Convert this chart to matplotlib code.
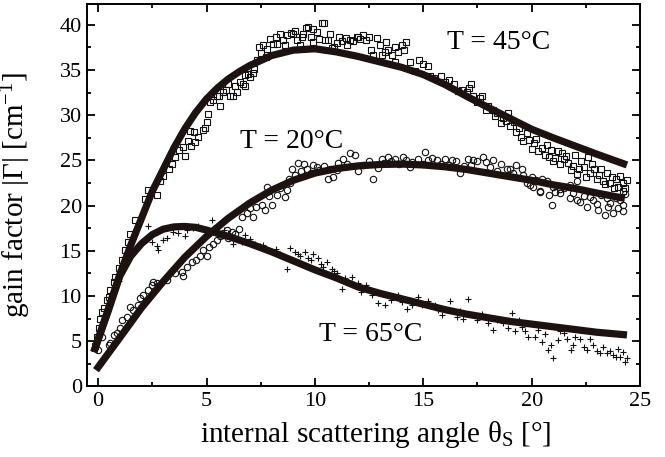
import matplotlib
matplotlib.use("Agg")
import matplotlib.pyplot as plt
from matplotlib.ticker import MultipleLocator

plt.rcParams['font.family'] = ['Liberation Serif', 'DejaVu Serif']
plt.rcParams['mathtext.fontset'] = 'custom'
plt.rcParams['mathtext.rm'] = 'Liberation Serif'
plt.rcParams['mathtext.it'] = 'Liberation Serif:italic'

# measured gain, T = 45 °C (squares)
x45 = [-0.15, -0.05, 0.05, 0.1, 0.17, 0.25, 0.4, 0.48, 0.55, 0.71, 0.78, 0.94, 1.09,
       1.25, 1.4, 1.48, 1.71, 2.17, 2.32, 2.73, 2.86, 3.29, 3.55, 3.75, 4.01, 4.16,
       4.24, 4.42, 4.47, 4.62, 4.82, 4.93, 5.08, 5.16, 5.31, 5.47, 5.59, 5.74, 5.9,
       6.08, 6.23, 6.31, 6.54, 6.7, 6.77, 6.77, 7.0, 7.16, 7.19, 7.31, 7.44, 7.59,
       7.74, 7.93, 8.08, 8.24, 8.39, 8.51, 8.7, 8.88, 9.0, 9.19, 9.31, 9.47, 9.6,
       9.7, 9.81, 9.93, 10.09, 10.21, 10.31, 10.42, 10.46, 10.62, 10.77, 10.88,
       11.03, 11.23, 11.43, 11.61, 11.77, 11.92, 12.0, 12.23, 12.38, 12.61, 12.69,
       12.88, 13.0, 13.08, 13.23, 13.38, 13.54, 13.69, 13.85, 14.0, 14.2, 14.4,
       14.6, 14.8, 15.0, 15.2, 15.3, 15.5, 15.8, 16.0, 16.2, 16.4, 16.6, 16.8,
       17.0, 17.2, 17.3, 17.5, 17.7, 17.9, 18.2, 18.3, 18.6, 18.7, 18.9, 19.2,
       19.3, 19.5, 19.8, 19.9, 20.1, 20.3, 20.5, 20.7, 20.8, 21.0, 21.2, 21.4,
       21.5, 21.7, 21.8, 22.0, 22.2, 22.4, 22.6, 22.7, 22.9, 23.1, 23.3, 23.5,
       23.6, 23.9, 24.0, 24.2, 24.2,
       3.0, 3.4, 3.9, 4.3, 5.0, 5.6, 6.0, 6.4, 6.9, 7.5, 7.8, 8.2, 8.6, 9.1, 9.4,
       9.9, 10.7, 11.1, 11.5, 12.1, 12.5, 13.3, 13.7, 14.1,
       17.1, 17.6, 18.0, 18.4, 18.8, 19.0, 19.4, 19.6, 20.0, 20.2, 20.6, 20.9,
       21.1, 21.3, 21.6, 21.9, 22.1, 22.3, 22.5, 22.8, 23.0, 23.2, 23.4, 23.7,
       23.8, 24.1, 24.3, 24.4]
y45 = [4.5, 5.5, 6.5, 7.5, 8.2, 8.65, 9.6, 9.9, 10.7, 11.6, 12.1, 13.1, 14.0,
       15.1, 16.0, 16.9, 18.4, 20.7, 21.7, 21.2, 22.7, 24.1, 25.4, 26.1, 25.5, 27.2,
       28.3, 28.2, 27.0, 27.6, 28.4, 28.6, 30.1, 31.5, 31.7, 32.1, 32.1, 32.6, 32.8,
       32.1, 32.1, 33.2, 33.7, 33.4, 34.5, 33.2, 34.2, 34.7, 35.1, 36.1, 37.6, 37.8,
       36.4, 38.4, 37.9, 37.9, 39.0, 38.3, 38.9, 39.1, 39.0, 38.3, 37.8, 39.0, 39.7,
       39.8, 38.7, 38.1, 39.2, 38.4, 40.2, 40.2, 38.3, 38.3, 37.4, 37.6,
       38.0, 38.2, 38.5, 38.3, 38.2, 38.6, 38.7, 38.9, 38.3, 37.2, 36.7,
       38.5, 37.8, 36.7, 37.0, 37.2, 36.7, 35.9, 37.0, 37.8, 38.1, 35.9,
       34.9, 36.1, 35.7, 35.4, 34.3, 34.1, 34.3, 33.7, 33.9, 33.5, 32.7, 32.8,
       32.6, 33.5, 32.1, 31.5, 32.1, 30.6, 30.6, 29.9, 29.1, 29.7, 30.2, 29.3,
       28.2, 27.6, 28.0, 27.3, 26.9, 26.0, 26.4, 26.7, 25.4, 24.9, 26.0, 25.8,
       25.2, 24.7, 23.9, 25.6, 24.1, 24.3, 25.4, 23.6, 24.1, 23.4, 22.7, 23.6,
       22.5, 22.9, 22.1, 22.5, 21.6,
       23.3, 24.6, 26.5, 26.6, 29.3, 31.0, 33.4, 32.6, 34.6, 36.9, 37.3, 38.6,
       37.8, 39.3, 38.6, 39.5, 39.0, 38.6, 37.8, 38.4, 38.6, 38.1, 37.5, 37.2,
       33.0, 31.9, 31.0, 30.3, 29.4, 28.8, 28.6, 27.2, 26.3, 27.4, 25.6, 26.2,
       25.3, 24.6, 25.5, 24.4, 23.5, 24.9, 23.2, 24.6, 22.9, 24.0, 22.4, 23.2,
       21.9, 23.3, 22.0, 22.8]

# measured gain, T = 20 °C (circles)
x20 = [0.01, 0.17, 0.48, 0.55, 0.71, 0.86, 1.01, 1.09, 1.32, 1.48, 1.63, 1.86, 1.94,
       2.09, 2.32, 2.47, 2.55, 2.7, 3.16, 3.55, 3.86, 3.93, 4.09, 4.32, 4.7, 4.86,
       5.01, 5.32, 5.47, 5.78, 5.93, 6.16, 6.31, 6.62, 6.85, 7.16, 7.55, 7.7, 7.77,
       8.0, 8.24, 8.62, 8.7, 8.85, 8.93, 9.24, 9.34, 9.62, 9.93, 10.2, 10.6, 10.85,
       11.08, 11.3, 11.62, 11.85, 12.0, 12.69, 13.08, 13.38, 13.69, 14.07, 14.38,
       14.77, 15.08, 15.23, 15.62, 16.0, 16.31, 16.69, 17.08, 17.31, 17.77, 18.08,
       18.38, 18.85, 19.15, 19.54, 19.77, 19.92, 20.08, 20.38, 20.38, 20.69, 20.92,
       21.0, 21.3, 21.3, 21.77, 21.77, 22.08, 22.23, 22.54, 22.85, 23.08, 23.38,
       23.46, 23.54, 23.77, 24.0, 24.08, 24.23,
       4.5, 5.1, 5.6, 6.0, 6.5, 7.0, 7.3, 7.9, 8.4, 8.8,
       9.1, 9.5, 9.8, 10.1, 10.4, 10.7, 11.0, 11.5, 12.2, 12.5, 12.9, 13.2, 13.5,
       13.9, 14.2, 14.5, 15.0, 15.4, 15.8, 16.2, 16.5, 16.9, 17.2, 17.5, 17.9,
       18.2, 18.6, 19.0, 19.3, 19.6, 20.0, 20.2, 20.5, 20.8, 21.1, 21.5, 21.9,
       22.1, 22.4, 22.7, 23.0, 23.2, 23.6, 23.9, 24.2, 24.3]
y20 = [4.04, 5.5, 4.6, 4.78, 5.7, 5.88, 6.43, 7.36, 7.72, 8.83, 8.47, 9.02, 9.76,
       10.1, 10.7, 11.2, 11.6, 11.4, 11.8, 12.5, 12.7, 12.2, 13.2, 13.8, 14.4, 15.1,
       14.4, 15.8, 16.2, 16.7, 17.3, 17.1, 16.9, 18.8, 19.2, 18.8, 20.1, 19.5, 22.1,
       20.1, 21.2, 21.0, 21.7, 22.5, 24.1, 24.7, 23.8, 24.1, 24.5, 23.9, 23.0, 23.2,
       24.7, 25.2, 25.8, 25.6, 23.8, 23.0, 25.2, 25.4, 25.2, 25.4, 24.3,
       25.2, 25.9, 25.0, 25.0, 25.2, 25.0, 23.6, 25.2, 25.0, 25.4, 24.3,
       23.8, 24.1, 23.6, 24.1, 22.5, 22.3, 22.1, 21.6, 21.5, 22.7, 20.1,
       22.1, 21.8, 21.4, 22.3, 20.8, 22.7, 20.4, 19.9, 20.6, 19.5, 19.0,
       20.8, 19.9, 19.2, 19.7, 20.6, 20.1,
       14.0, 15.4, 16.6, 16.4, 17.4, 19.7, 19.9, 21.1, 21.9, 23.0,
       23.4, 24.6, 23.6, 24.3, 24.4, 24.0, 23.9, 24.6, 24.5, 24.9, 24.2, 24.7, 24.9,
       24.6, 25.0, 24.8, 24.6, 25.3, 24.6, 24.5, 24.9, 24.4, 24.5, 24.9, 24.8,
       25.1, 24.6, 24.0, 24.5, 23.4, 23.2, 22.8, 22.9, 21.2, 21.5, 22.0, 21.4,
       20.6, 21.1, 21.0, 20.2, 21.2, 20.3, 20.9, 19.4, 21.3]

# measured gain, T = 65 °C (crosses)
x65 = [-0.15, 0.0, 0.2, 0.45, 0.7, 0.95, 1.17, 1.4, 1.55, 2.32, 2.47, 2.7, 2.78,
       3.01, 3.16, 3.47, 3.7, 4.01, 4.09, 4.39, 4.62, 5.24, 5.47, 6.24, 6.62, 6.77,
       7.24, 7.47, 7.77, 8.08, 8.39, 8.7, 8.85, 9.08, 9.31, 9.54, 9.7, 9.93, 10.16,
       10.39, 10.54, 10.77, 11.0, 11.23, 11.7, 12.15, 12.38, 12.62, 12.92, 13.23,
       13.85, 14.23, 14.77, 14.92, 15.54, 15.85, 16.23, 16.54, 16.85, 17.08, 17.46,
       18.0, 18.23, 18.69, 19.08, 19.23, 19.54, 19.85, 20.15, 20.46, 20.77, 21.0,
       21.31, 21.62, 21.92, 22.23, 22.54, 22.85, 23.15, 23.46, 23.77, 24.0, 24.08,
       24.31,
       5.8, 6.0, 6.5, 7.0, 7.6, 8.2, 8.6, 9.2, 9.8, 10.3, 10.9, 11.4,
       12.0, 12.8, 13.5, 14.0, 14.5, 15.2, 15.7, 16.0, 16.7, 17.3, 17.7, 18.4,
       18.9, 19.4, 19.7, 20.3, 20.6, 20.9, 21.2, 21.5, 21.8, 22.0, 22.4, 22.7,
       23.0, 23.3, 23.6, 23.9, 24.2, 24.4]
y65 = [4.2, 5.2, 6.6, 8.3, 10.1, 11.7, 13.2, 14.2, 15.1, 17.7, 16.0, 15.5, 15.1,
       16.2, 16.4, 17.1, 17.0, 16.6, 17.3, 17.5, 17.7, 18.4, 16.9, 15.8, 16.0, 16.7,
       15.8, 15.5, 15.1, 14.9, 14.7, 13.0, 15.3, 14.9, 14.4, 14.9, 14.2, 14.6, 14.2,
       13.2, 13.8, 13.0, 12.5, 10.8, 12.1, 10.5, 11.2, 10.1, 9.2, 9.0,
       10.1, 8.6, 9.9, 9.0, 9.0, 7.9, 9.4, 7.7, 7.5, 9.7, 7.3,
       7.0, 6.2, 7.0, 8.1, 6.1, 6.6, 5.5, 5.5, 4.9, 4.0, 3.1,
       6.1, 5.3, 4.6, 5.2, 4.0, 4.6, 3.7, 3.7, 3.5, 4.1, 3.3,
       2.7,
       17.3, 17.0, 16.2, 16.3, 15.6, 15.2, 14.3, 14.6, 14.0, 13.6, 12.8, 12.0,
       11.5, 10.4, 9.6, 9.3, 9.0, 9.5, 8.5, 8.6, 8.3, 7.9, 8.0, 7.4,
       6.5, 7.4, 6.1, 6.2, 5.8, 4.6, 5.1, 5.9, 4.0, 5.5, 4.4, 5.3,
       3.9, 4.4, 3.9, 3.3, 3.8, 3.2]

# fitted curves
fit45_x = [-0.2, 0.5, 1.0, 1.5, 2.0, 2.5, 3.0, 3.5, 4.0, 4.5, 5.0, 5.5, 6.0, 6.5,
           7.0, 8.0, 9.0, 10.0, 11.0, 12.0, 13.0, 14.0, 15.0, 16.0, 17.0, 18.0,
           19.0, 20.0, 21.0, 22.0, 23.0, 24.4]
fit45_y = [3.8, 8.8, 12.4, 15.6, 18.6, 21.6, 24.0, 26.4, 28.5, 30.3, 31.8, 33.0,
           34.0, 34.8, 35.5, 36.6, 37.2, 37.35, 37.0, 36.5, 35.9, 35.3, 34.5, 33.4,
           32.1, 30.85, 29.65, 28.45, 27.5, 26.6, 25.7, 24.5]
fit20_x = [-0.1, 1.0, 2.0, 3.0, 4.0, 5.0, 6.0, 7.0, 8.0, 9.0, 10.0, 11.0, 12.0,
           13.0, 14.0, 15.0, 16.0, 17.0, 18.0, 19.0, 20.0, 21.0, 22.0, 23.0, 24.3]
fit20_y = [1.8, 5.4, 8.7, 11.6, 14.3, 16.6, 18.6, 20.3, 21.7, 22.8, 23.6, 24.1,
           24.4, 24.55, 24.6, 24.5, 24.3, 24.0, 23.6, 23.2, 22.8, 22.3, 21.9, 21.4,
           20.8]
fit65_x = [-0.2, 0.5, 1.0, 1.5, 2.0, 2.5, 3.0, 3.5, 4.0, 4.5, 5.0, 5.5, 6.0, 7.0,
           8.0, 9.0, 10.0, 11.0, 12.0, 13.0, 14.0, 15.0, 16.0, 17.0, 18.0, 19.0,
           20.0, 21.0, 22.0, 23.0, 24.4]
fit65_y = [3.8, 8.6, 12.2, 14.4, 15.8, 16.8, 17.4, 17.65, 17.7, 17.6, 17.3, 16.95,
           16.6, 15.8, 14.9, 13.9, 12.9, 12.0, 11.0, 10.3, 9.7, 9.1, 8.5, 8.0, 7.6,
           7.2, 6.9, 6.6, 6.3, 6.0, 5.7]

labels = ["T = 45°C", "T = 20°C", "T = 65°C"]
label_pos = [(16.1, 38.0), (6.55, 27.1), (10.2, 5.8)]

fig = plt.figure(figsize=(6.65, 4.57), dpi=100)
ax = fig.add_axes([0.1313, 0.1543, 0.8311, 0.8369])

mk = dict(linestyle='none', markerfacecolor='none', markeredgecolor='#111111',
          markeredgewidth=0.8)
ax.plot(x45, y45, marker='s', markersize=4.0, **mk)
ax.plot(x20, y20, marker='o', markersize=4.6, **mk)
ax.plot(x65, y65, marker='+', markersize=5.0, **mk)

fit_color = '#1c1311'
for fx, fy in [(fit45_x, fit45_y), (fit20_x, fit20_y), (fit65_x, fit65_y)]:
    ax.plot(fx, fy, color=fit_color, linewidth=5.2, solid_capstyle='butt')

for text, (tx, ty) in zip(labels, label_pos):
    ax.text(tx, ty, text, fontsize=20, ha='left', va='center')

ax.set_xlim(-0.5, 25)
ax.set_ylim(0, 42.3)
ax.xaxis.set_major_locator(MultipleLocator(5))
ax.xaxis.set_minor_locator(MultipleLocator(2.5))
ax.yaxis.set_major_locator(MultipleLocator(5))
ax.yaxis.set_minor_locator(MultipleLocator(2.5))
ax.tick_params(which='both', direction='in', top=True, right=True, width=1.3,
               labelsize=16, pad=4)
ax.tick_params(which='major', length=5.5)
ax.tick_params(which='minor', length=3)
for sp in ax.spines.values():
    sp.set_linewidth(1.4)

ax.set_xlabel("internal scattering angle θ$_\\mathrm{S}$ [°]", fontsize=21)
ax.set_ylabel("gain factor |Γ| [cm$^{\\mathrm{-1}}$]", fontsize=21)
ax.xaxis.set_label_coords(0.522, -0.085)
ax.yaxis.set_label_coords(-0.098, 0.5)

fig.savefig("out.png", dpi=100)
